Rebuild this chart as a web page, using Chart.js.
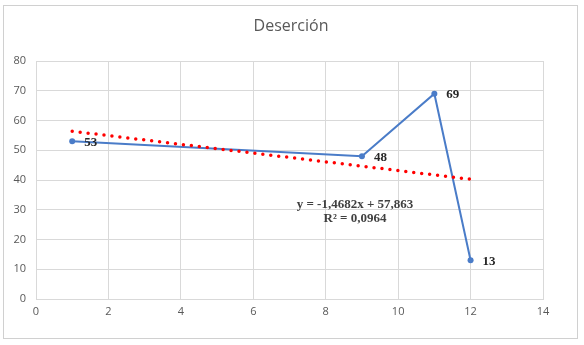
<!DOCTYPE html>
<html>
<head>
<meta charset="utf-8">
<script src="https://cdn.jsdelivr.net/npm/chart.js@4/dist/chart.umd.min.js"></script>
<style>
  html, body { margin: 0; padding: 0; background: #fff; }
  #wrap { width: 584px; height: 345px; position: relative; }
</style>
</head>
<body>
<div id="wrap"><canvas id="c" width="584" height="345"></canvas></div>
<script>
// Deserción: observed points and linear trend
const xValues = [1, 9, 11, 12];
const yValues = [53, 48, 69, 13];
const trendSlope = -1.4682;
const trendIntercept = 57.863;
const trendRange = [1, 12];
const equationLines = ['y = -1,4682x + 57,863', 'R² = 0,0964'];
const chartTitle = 'Deserción';

const points = xValues.map((x, i) => ({ x: x, y: yValues[i] }));
const trendPoints = trendRange.map(x => ({ x: x, y: trendSlope * x + trendIntercept }));

const grid = '#d9d9d9';
const tickColor = '#595959';
const lineBlue = '#4a7cc8';

const decor = {
  id: 'decor',
  beforeDraw(chart) {
    const ctx = chart.ctx;
    ctx.save();
    ctx.fillStyle = '#fff';
    ctx.fillRect(0, 0, chart.width, chart.height);
    ctx.strokeStyle = '#d0d0d0';
    ctx.lineWidth = 1;
    ctx.strokeRect(3.5, 5.5, 574, 333);
    ctx.fillStyle = '#595959';
    ctx.font = '16px "Open Sans", "Liberation Sans", sans-serif';
    ctx.textAlign = 'center';
    ctx.textBaseline = 'middle';
    ctx.fillText(chartTitle, 291, 26);
    ctx.restore();
  },
  afterDatasetsDraw(chart) {
    const ctx = chart.ctx;
    const xs = chart.scales.x, ys = chart.scales.y;
    ctx.save();
    ctx.fillStyle = '#262626';
    ctx.font = 'bold 13px "Liberation Serif", "Times New Roman", serif';
    ctx.textAlign = 'left';
    ctx.textBaseline = 'middle';
    points.forEach(p => {
      ctx.fillText(String(p.y), xs.getPixelForValue(p.x) + 12, ys.getPixelForValue(p.y) + 1);
    });
    ctx.fillStyle = '#404040';
    ctx.font = 'bold 13px "Liberation Serif", "Times New Roman", serif';
    ctx.textAlign = 'center';
    ctx.fillText(equationLines[0], 355, 205);
    ctx.fillText(equationLines[1], 355, 219);
    ctx.restore();
  }
};

new Chart(document.getElementById('c'), {
  type: 'scatter',
  data: {
    datasets: [
      {
        data: points,
        showLine: true,
        borderColor: lineBlue,
        backgroundColor: lineBlue,
        borderWidth: 2,
        pointRadius: 3,
        pointBorderWidth: 0,
        pointHoverRadius: 3,
        order: 1
      },
      {
        data: trendPoints,
        showLine: true,
        borderColor: '#ff0000',
        borderWidth: 3.5,
        borderDash: [0, 8],
        borderCapStyle: 'round',
        pointRadius: 0,
        order: 0
      }
    ]
  },
  options: {
    responsive: false,
    animation: false,
    events: [],
    layout: { padding: { left: 10, right: 41, top: 61, bottom: 26 } },
    plugins: {
      legend: { display: false },
      tooltip: { enabled: false },
      title: { display: false }
    },
    scales: {
      x: {
        type: 'linear',
        min: 0, max: 14,
        ticks: { stepSize: 2, color: tickColor, font: { size: 11, family: '"Open Sans", "Liberation Sans", sans-serif' }, padding: 6 },
        grid: { color: grid, drawTicks: false },
        border: { color: grid },
        afterFit(s) { s.height = 20; }
      },
      y: {
        type: 'linear',
        min: 0, max: 80,
        ticks: { stepSize: 10, color: tickColor, font: { size: 11, family: '"Open Sans", "Liberation Sans", sans-serif' }, padding: 10 },
        grid: { color: grid, drawTicks: false },
        border: { color: grid },
        afterFit(s) { s.width = 26; }
      }
    }
  },
  plugins: [decor]
});
</script>
</body>
</html>
